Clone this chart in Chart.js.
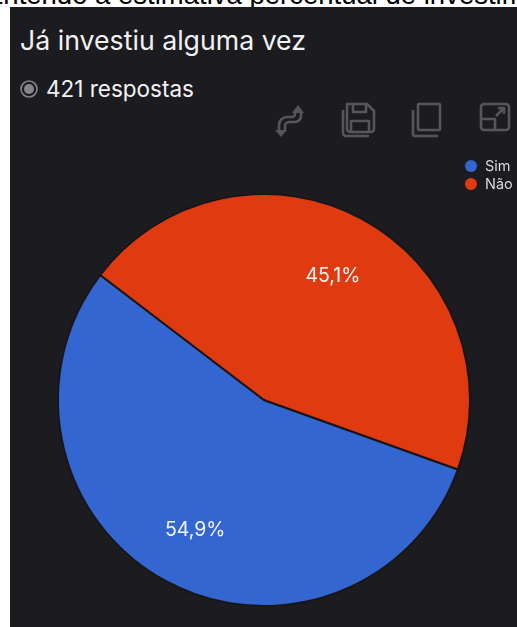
<!DOCTYPE html>
<html lang="pt">
<head>
   <meta charset="UTF-8">
   <title>Já investiu alguma vez</title>
   <script src="https://cdn.jsdelivr.net/npm/chart.js"></script>
   <style>
       html, body {
           margin: 0;
           padding: 0;
           width: 517px;
           height: 627px;
           overflow: hidden;
           background: #fff;
       }
       .question {
           position: absolute;
           left: 0;
           top: -17px;
           width: 517px;
           height: 24px;
           overflow: hidden;
           white-space: nowrap;
           font: 27.5px/24px "Liberation Sans", Arial, sans-serif;
           color: #000;
           text-indent: -15px;
       }
       .panel {
           position: absolute;
           left: 10px;
           top: 7px;
           width: 507px;
           height: 620px;
           overflow: hidden;
           background: #1c1c20;
           font-family: Inter, sans-serif;
           color: #f2f2f4;
       }
       .panel h1 {
           position: absolute;
           left: 10px;
           top: 17px;
           margin: 0;
           font-size: 26.7px;
           line-height: 32px;
           font-weight: 400;
           white-space: nowrap;
       }
       .responses {
           position: absolute;
           left: 36px;
           top: 68px;
           font-size: 22.5px;
           line-height: 28px;
           white-space: nowrap;
       }
       .radio {
           position: absolute;
           left: 10px;
           top: 73px;
           width: 18px;
           height: 18px;
       }
       .tools {
           position: absolute;
           top: 0;
           left: 0;
       }
       #pie {
           position: absolute;
           left: 0;
           top: 143px;
       }
       #legend {
           position: absolute;
           left: 455px;
           top: 150px;
           font-size: 14.5px;
           line-height: 18px;
           color: #d8d8dc;
           white-space: nowrap;
       }
       #legend i {
           display: inline-block;
           width: 12px;
           height: 12px;
           border-radius: 50%;
           margin-right: 8px;
           vertical-align: -1px;
       }
   </style>
</head>
<body>
   <div class="question">Entendo a estimativa percentual de investimento</div>
   <div class="panel">
       <h1>Já investiu alguma vez</h1>
       <svg class="radio" viewBox="0 0 18 18">
           <circle cx="9" cy="9" r="8" fill="none" stroke="#85868a" stroke-width="1.6"/>
           <circle cx="9" cy="9" r="5" fill="#85868a"/>
       </svg>
       <div class="responses">421 respostas</div>
       <svg class="tools" width="507" height="140" fill="none" stroke="#55565b" stroke-width="2.6" stroke-linejoin="round">
           <!-- swap axes -->
           <path d="M291 106 v3 a6 6 0 0 1 -6 6 h-6 a4 4 0 0 0 -4 4 v5"/>
           <path d="M285 106 v1 a3 3 0 0 1 -3 3 h-5 a8 8 0 0 0 -8 8 v6"/>
           <path d="M288 98 l6 8 h-12 z M271 130 l-6 -7 h12 z" fill="#55565b" stroke="none"/>
           <!-- save -->
           <path d="M337 97 h20 l7 7 v18 a3 3 0 0 1 -3 3 h-21 a3 3 0 0 1 -3 -3 z"/>
           <path d="M343 97 v8 h13 v-8 M341 125 v-11 h18 v11"/>
           <path d="M333 103 v23 a3 3 0 0 0 3 3 h23"/>
           <!-- copy -->
           <rect x="408" y="97" width="22" height="26" rx="1"/>
           <path d="M403 103 v24 a2 2 0 0 0 2 2 h23"/>
           <!-- open large -->
           <rect x="471" y="97" width="28" height="26" rx="3"/>
           <path d="M471 112 h14 v11 M486 109 l8 -8 M488 101 h6 v6"/>
       </svg>
       <canvas id="pie" width="508" height="500"></canvas>
       <div id="legend"></div>
   </div>
   <script>
       const categories = ['Sim', 'Não'];
       const shares = [54.9, 45.1];
       const colors = ['#3366d0', '#e03a10'];

       // writes the share of each slice on top of it
       const sliceLabels = {
           id: 'sliceLabels',
           afterDatasetsDraw(chart) {
               const ctx = chart.ctx;
               ctx.save();
               ctx.font = '19.5px Inter, sans-serif';
               ctx.fillStyle = '#f4f4f6';
               ctx.textAlign = 'center';
               ctx.textBaseline = 'middle';
               chart.getDatasetMeta(0).data.forEach((arc, i) => {
                   const mid = (arc.startAngle + arc.endAngle) / 2;
                   const r = arc.outerRadius * 0.7;
                   const text = shares[i].toFixed(1).replace('.', ',') + '%';
                   ctx.fillText(text, arc.x + Math.cos(mid) * r, arc.y + Math.sin(mid) * r + 3);
               });
               ctx.restore();
           }
       };

       new Chart(document.getElementById('pie'), {
           type: 'pie',
           data: {
               labels: categories,
               datasets: [{
                   data: shares,
                   backgroundColor: colors,
                   borderColor: '#17171a',
                   borderWidth: 2
               }]
           },
           options: {
               responsive: false,
               animation: false,
               rotation: 109.7,
               radius: 206,
               plugins: {
                   tooltip: { enabled: false },
                   legend: { display: false }
               }
           },
           plugins: [sliceLabels]
       });

       // legend sits at the top right, clear of the pie
       document.getElementById('legend').innerHTML = categories
           .map((name, i) => `<div><i style="background:${colors[i]}"></i>${name}</div>`)
           .join('');
   </script>
</body>
</html>
